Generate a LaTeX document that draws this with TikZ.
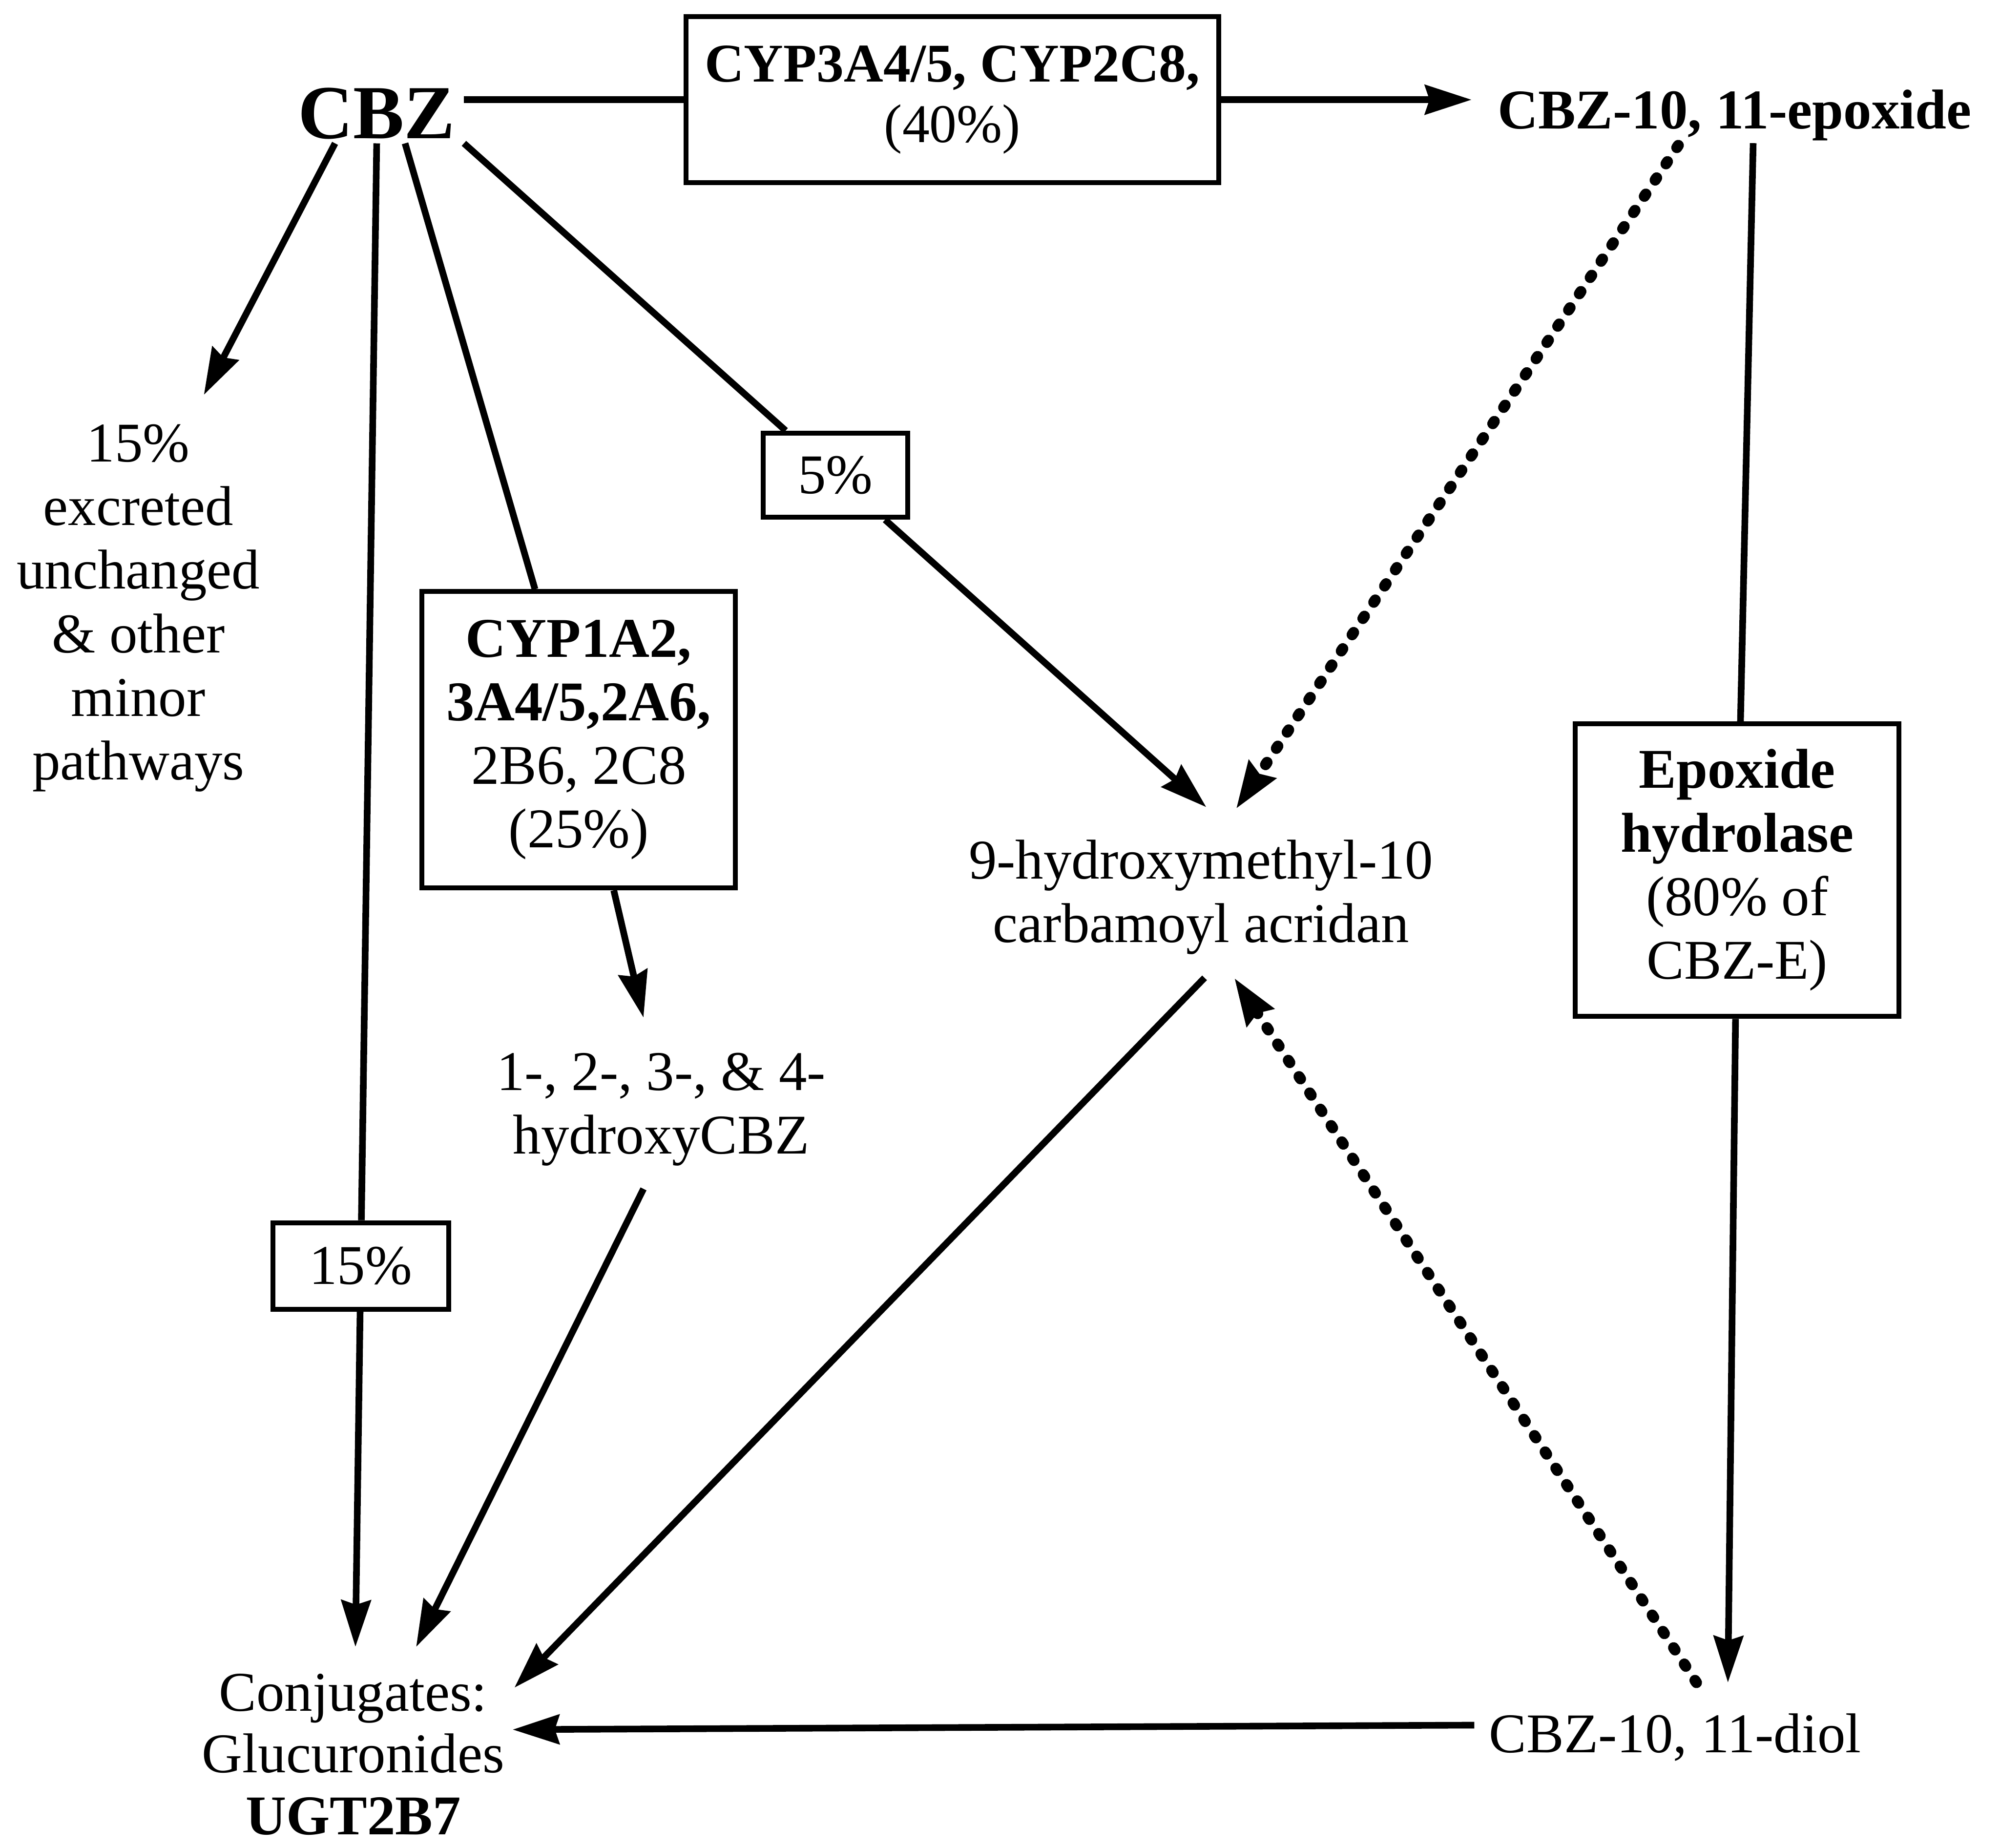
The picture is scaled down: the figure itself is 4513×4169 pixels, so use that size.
\documentclass[tikz,border=0pt]{standalone}
\usepackage{fontspec}
\setmainfont{Liberation Serif}
\usetikzlibrary{arrows.meta}
\newcommand\normsize{\fontsize{36}{40.8}\selectfont}
\tikzset{
  conn/.style={line width=0.15cm, -{Stealth[length=1.05cm,width=0.66cm,inset=0.1cm]}},
  plain/.style={line width=0.15cm},
  dots/.style={line width=0.25cm, line cap=round, dash pattern=on 0.06cm off 0.38cm,
    -{Stealth[length=1.05cm,width=0.7cm,inset=0.1cm]}},
  box/.style={draw, line width=0.11cm, fill=white, inner sep=0pt, align=center, font=\normsize},
  lbl/.style={inner sep=0pt, align=center, font=\normsize},
}
\begin{document}
\begin{tikzpicture}[x=0.01cm, y=-0.01cm]
\useasboundingbox (0,0) rectangle (4513,4169);

% nodes
\node[lbl, anchor=base, inner xsep=0.19cm, inner ysep=0.09cm,
      font=\fontsize{49}{54}\selectfont\bfseries] (cbz) at (850,312) {CBZ};
\node[box, minimum width=12.02cm, minimum height=3.75cm,
      font=\fontsize{35}{38.7}\selectfont] (box1) at (2149,225)
      {\textbf{CYP3A4/5, CYP2C8,}\\(40\%)};
\node[lbl, anchor=base] (epox) at (3914,290) {\textbf{CBZ-10, 11-epoxide}};
\node[lbl] (exc) at (312,1372) {15\%\\excreted\\unchanged\\\& other\\minor\\pathways};
\node[box, minimum width=3.26cm, minimum height=1.90cm] (box5) at (1885,1072) {5\%};
\node[box, minimum width=7.07cm, minimum height=6.68cm] (box25) at (1306,1669)
      {\textbf{CYP1A2,}\\\textbf{3A4/5,2A6,}\\2B6, 2C8\\(25\%)};
\node[box, minimum width=3.96cm, minimum height=1.95cm] (box15) at (814,2856) {15\%};
\node[box, minimum width=7.30cm, minimum height=6.60cm] (boxeh) at (3920,1963)
      {\textbf{Epoxide}\\\textbf{hydrolase}\\(80\% of\\CBZ-E)};
\node[lbl] (acr) at (2710,2024) {9-hydroxymethyl-10\\carbamoyl acridan};
\node[lbl] (hyd) at (1492,2503) {1-, 2-, 3-, \& 4-\\hydroxyCBZ};
\node[lbl, font=\fontsize{36}{39.6}\selectfont] (conj) at (797,3958)
      {Conjugates:\\Glucuronides\\\textbf{UGT2B7}};
\node[lbl, anchor=base] (diol) at (3780,3954) {CBZ-10, 11-diol};

% connectors
\draw[plain] (cbz.east |- box1.west) -- (box1.west);
\draw[conn] (box1.east) -- ([shift={(-58,-65)}]epox.base west);
\draw[conn] ([shift={(-94,0)}]cbz.south) -- ([shift={(148,-66)}]exc.north);
\draw[plain] (cbz.south) -- (box15);
\draw[conn] (box15) -- ([shift={(5,-60)}]conj.north);
\draw[plain] ([shift={(64,0)}]cbz.south) -- (box25);
\draw[conn] (box25) -- ([shift={(-40,-79)}]hyd.north);
\draw[plain] (cbz.south east) -- (box5);
\draw[conn] (box5) -- ([shift={(12,-73)}]acr.north);
\draw[dots] ([shift={(-127,38)}]epox.base) -- ([shift={(79,-69)}]acr.north);
\draw[plain] ([shift={(42,33)}]epox.base) -- (boxeh);
\draw[conn] (boxeh) -- ([shift={(119,-158)}]diol.base);
\draw[dots] ([shift={(48,-158)}]diol.base) -- ([shift={(75,52)}]acr.south);
\draw[conn] ([shift={(-40,51)}]hyd.south) -- ([shift={(142,-60)}]conj.north);
\draw[conn] ([shift={(8,52)}]acr.south) -- ([shift={(22,32)}]conj.north east);
\draw[conn] ([shift={(-33,-62)}]diol.base west) -- ([shift={(18,-56)}]conj.east);
\end{tikzpicture}
\end{document}
